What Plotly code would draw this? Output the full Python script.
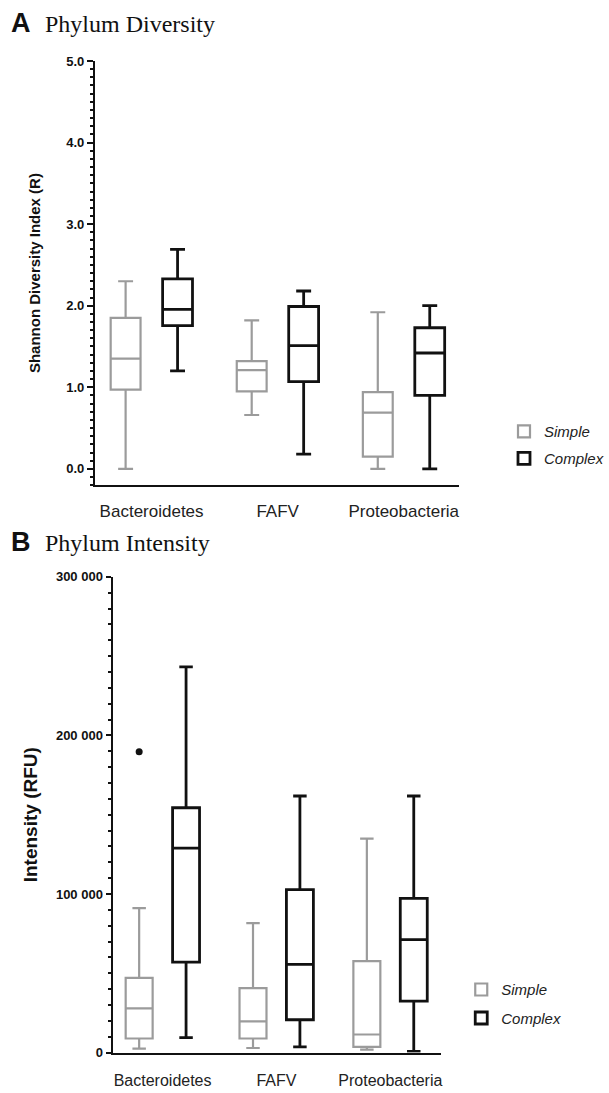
import plotly.graph_objects as go

# ---------------- data ----------------
categories = ["Bacteroidetes", "FAFV", "Proteobacteria"]
series_names = ["Simple", "Complex"]

# Panel A: Shannon diversity index
div_simple_min = [0.0, 0.66, 0.0]
div_simple_q1 = [0.97, 0.95, 0.15]
div_simple_med = [1.35, 1.21, 0.69]
div_simple_q3 = [1.85, 1.32, 0.94]
div_simple_max = [2.30, 1.82, 1.92]

div_complex_min = [1.20, 0.18, 0.0]
div_complex_q1 = [1.755, 1.07, 0.90]
div_complex_med = [1.955, 1.51, 1.42]
div_complex_q3 = [2.33, 1.99, 1.73]
div_complex_max = [2.69, 2.18, 2.00]

# Panel B: intensity (RFU)
int_simple_min = [2500, 2900, 1900]
int_simple_q1 = [8900, 8900, 3600]
int_simple_med = [27900, 19700, 11400]
int_simple_q3 = [47100, 40600, 57700]
int_simple_max = [91100, 81600, 134900]
int_simple_outliers = [[189700], [], []]

int_complex_min = [9500, 3600, 800]
int_complex_q1 = [57100, 20700, 32400]
int_complex_med = [129000, 55600, 71300]
int_complex_q3 = [154400, 102800, 97300]
int_complex_max = [243200, 161800, 161800]

div_ticks = [0, 1, 2, 3, 4, 5]
int_ticks = [0, 100000, 200000, 300000]

# ---------------- style ----------------
W, H = 609, 1093
SANS = "Liberation Sans, Arial, sans-serif"
SERIF = "Liberation Serif, Times New Roman, serif"
GRAY = "#9b9b9b"
BLACK = "#111111"
BOXGAP = 0.176
BOXGROUPGAP = 0.425
OFF = 0.25 * (1 - BOXGAP)
VSHIFT, VSCALE = 8, 0.986  # empirical vertical mapping of the photographed page


def px_x(p):
    return p / W


def px_y(p):
    return 1 - ((p - VSHIFT) / VSCALE) / H


fig = go.Figure()


def add_box(name, color, lw, q1, med, q3, lo, hi, xa, ya, legend, y=None, group=None):
    if y is not None:
        kw = dict(y=y, boxpoints="outliers", pointpos=0, jitter=0,
                  marker=dict(color=BLACK, size=7))
    else:
        kw = dict(boxpoints=False)
    fig.add_trace(go.Box(
        name=f"<i>{name}</i>", x=categories, q1=q1, median=med, q3=q3,
        lowerfence=lo, upperfence=hi, orientation="v",
        line=dict(color=color, width=lw), fillcolor="white",
        whiskerwidth=0.5, offsetgroup=name, alignmentgroup=xa,
        xaxis=xa, yaxis=ya, legend=legend, legendgroup=group,
        hoverinfo="skip", **kw))


add_box("Simple", GRAY, 2.2, div_simple_q1, div_simple_med, div_simple_q3,
        div_simple_min, div_simple_max, "x", "y", "legend", group="a1")
add_box("Complex", BLACK, 2.8, div_complex_q1, div_complex_med, div_complex_q3,
        div_complex_min, div_complex_max, "x", "y", "legend", group="a2")
add_box("Simple", GRAY, 2.2, int_simple_q1, int_simple_med, int_simple_q3,
        int_simple_min, int_simple_max, "x2", "y2", "legend2",
        y=int_simple_outliers, group="b1")
add_box("Complex", BLACK, 2.8, int_complex_q1, int_complex_med, int_complex_q3,
        int_complex_min, int_complex_max, "x2", "y2", "legend2", group="b2")

box_tick_pos = [i + s * OFF for i in range(len(categories)) for s in (-1, 1)]

rangeA = [-0.45, 2.44]
rangeB = [-0.44, 2.445]

axis_common = dict(showgrid=False, zeroline=False, showline=True,
                   linecolor=BLACK, linewidth=2)

fig.update_layout(
    width=W, height=H,
    margin=dict(l=0, r=0, t=0, b=0),
    paper_bgcolor="white", plot_bgcolor="white",
    boxmode="group", boxgap=BOXGAP, boxgroupgap=BOXGROUPGAP,
    separators=". ",
    font=dict(family=SANS, color=BLACK),
    xaxis=dict(domain=[px_x(95), px_x(460)], anchor="y", type="category",
               range=rangeA, ticks="", ticklabelstandoff=9,
               tickfont=dict(size=17, color="#222"), **axis_common),
    yaxis=dict(domain=[px_y(486), px_y(62)], anchor="x", range=[-0.2, 5.0],
               tickvals=div_ticks, tickformat=".1f", ticks="outside",
               ticklen=6, tickwidth=2, tickcolor=BLACK,
               tickfont=dict(size=13, family=SANS, weight="bold"),
               minor=dict(dtick=0.1, tick0=0, ticks="outside", ticklen=3,
                          tickwidth=1.5, tickcolor=BLACK, showgrid=False),
               title=dict(text="<b>Shannon Diversity Index (R)</b>",
                          font=dict(size=15), standoff=22),
               **axis_common),
    xaxis3=dict(overlaying="x", anchor="y", range=rangeA, tickvals=box_tick_pos,
                ticks="outside", ticklen=5, tickwidth=2, tickcolor=BLACK,
                showticklabels=False, showgrid=False, zeroline=False,
                showline=False),
    xaxis2=dict(domain=[px_x(112.7), px_x(441.7)], anchor="y2", type="category",
                range=rangeB, ticks="", ticklabelstandoff=12,
                tickfont=dict(size=16, color="#222"), **axis_common),
    yaxis2=dict(domain=[px_y(1053.3), px_y(577.7)], anchor="x2",
                range=[0, 300000], tickvals=int_ticks, tickformat=",d",
                ticks="outside", ticklen=5, tickwidth=2, tickcolor=BLACK,
                tickfont=dict(size=13, family=SANS, weight="bold"),
                minor=dict(dtick=10000, tick0=0, ticks="outside", ticklen=3,
                           tickwidth=1.5, tickcolor=BLACK, showgrid=False),
                title=dict(text="<b>Intensity (RFU)</b>", font=dict(size=19),
                           standoff=13),
                **axis_common),
    xaxis4=dict(overlaying="x2", anchor="y2", range=rangeB,
                tickvals=box_tick_pos, ticks="outside", ticklen=5, tickwidth=2,
                tickcolor=BLACK, showticklabels=False, showgrid=False,
                zeroline=False, showline=False),
    legend=dict(x=px_x(505), y=px_y(416), xanchor="left", yanchor="top",
                bgcolor="rgba(0,0,0,0)", traceorder="grouped",
                tracegroupgap=4.5, font=dict(size=15, color="#222")),
    legend2=dict(x=px_x(462), y=px_y(974), xanchor="left", yanchor="top",
                 bgcolor="rgba(0,0,0,0)", traceorder="grouped",
                 tracegroupgap=6, font=dict(size=15, color="#222")),
    annotations=[
        dict(text="<b>A</b>", x=px_x(9), y=px_y(24), xref="paper", yref="paper",
             xanchor="left", yanchor="middle", showarrow=False,
             font=dict(size=27, family=SANS, color=BLACK)),
        dict(text="Phylum Diversity", x=px_x(43), y=px_y(25), xref="paper",
             yref="paper", xanchor="left", yanchor="middle", showarrow=False,
             font=dict(size=24, family=SERIF, color=BLACK)),
        dict(text="<b>B</b>", x=px_x(9), y=px_y(543), xref="paper", yref="paper",
             xanchor="left", yanchor="middle", showarrow=False,
             font=dict(size=27, family=SANS, color=BLACK)),
        dict(text="Phylum Intensity", x=px_x(43), y=px_y(544), xref="paper",
             yref="paper", xanchor="left", yanchor="middle", showarrow=False,
             font=dict(size=24, family=SERIF, color=BLACK)),
    ],
)

fig.write_html("out.html", config={"displayModeBar": False},
               post_script="document.body.style.margin='0';")
